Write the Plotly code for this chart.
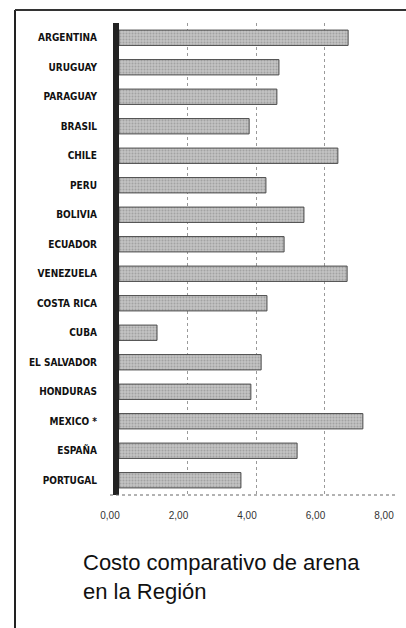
import plotly.graph_objects as go

countries = ["ARGENTINA", "URUGUAY", "PARAGUAY", "BRASIL", "CHILE", "PERU", "BOLIVIA",
             "ECUADOR", "VENEZUELA", "COSTA RICA", "CUBA", "EL SALVADOR", "HONDURAS",
             "MEXICO *", "ESPAÑA", "PORTUGAL"]
costs = [6.69, 4.67, 4.61, 3.80, 6.39, 4.29, 5.40, 4.82, 6.66, 4.32, 1.11, 4.15, 3.85,
         7.12, 5.20, 3.56]
tick_vals = [0, 2, 4, 6, 8]
tick_text = ["0,00", "2,00", "4,00", "6,00", "8,00"]
title_lines = ["Costo comparativo de arena", "en la Región"]

W, H = 406, 628
L, R, T, B = 119, 13, 23, 133
pw, ph = W - L - R, H - T - B


def px(x):
    return (x - L) / pw


def py(y):
    return 1 - (y - T) / ph


fig = go.Figure(go.Bar(
    x=costs, y=countries, orientation="h", width=0.52,
    marker=dict(color="#b8b8b8", line=dict(color="#4a4a4a", width=1),
                pattern=dict(shape=".", fgcolor="#808080", bgcolor="#c4c4c4",
                             size=3, solidity=0.35)),
))

fig.update_layout(
    width=W, height=H, margin=dict(l=L, r=R, t=T, b=B, autoexpand=False),
    paper_bgcolor="white", plot_bgcolor="white", showlegend=False,
    xaxis=dict(range=[0, 8], tickvals=tick_vals, ticktext=tick_text, automargin=False,
               showgrid=True, gridcolor="#9a9a9a", griddash="dot", gridwidth=1,
               zeroline=False, showline=False, ticks="", ticklabelstandoff=13,
               ticklabelshift=-9,
               tickfont=dict(family="Liberation Sans, Arial, sans-serif", size=10, color="#333")),
    yaxis=dict(categoryorder="array", categoryarray=countries, autorange="reversed",
               automargin=False,
               showline=True, linecolor="#222", linewidth=6, showgrid=False,
               ticks="", ticklabelstandoff=14,
               tickfont=dict(family="Liberation Sans Narrow, Arial Narrow, DejaVu Sans Condensed, sans-serif",
                             size=10, color="#111", weight="bold")),
    shapes=[
        # outer frame
        dict(type="line", xref="paper", yref="paper", x0=px(15), x1=px(15), y0=py(10), y1=py(628),
             line=dict(color="#222", width=2)),
        dict(type="line", xref="paper", yref="paper", x0=px(15), x1=px(406), y0=py(10), y1=py(10),
             line=dict(color="#333", width=2)),
        # bottom floor line
        dict(type="line", xref="paper", yref="paper", x0=px(110), x1=px(395), y0=0, y1=0,
             line=dict(color="#666", width=1, dash="dot")),
    ],
    annotations=[
        dict(text="<br>".join(title_lines), xref="paper", yref="paper", x=px(81), y=py(548),
             xanchor="left", yanchor="top", align="left", showarrow=False,
             font=dict(family="Liberation Sans, Arial, sans-serif", size=22, color="#111")),
    ],
)

fig.write_html("out.html", config={"displayModeBar": False},
               post_script="document.body.style.margin='0';document.body.style.overflow='hidden';")
